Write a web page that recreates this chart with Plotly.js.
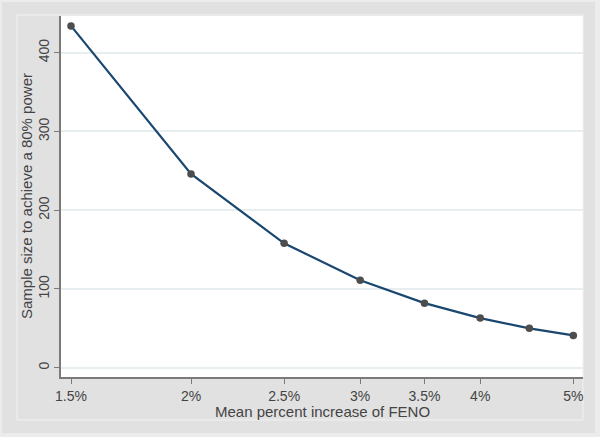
<!DOCTYPE html>
<html>
<head>
<meta charset="utf-8">
<script src="https://cdn.plot.ly/plotly-3.0.1.min.js"></script>
<style>
  html, body { margin: 0; padding: 0; background: #ececec; }
  #wrap { position: relative; width: 600px; height: 437px; background: #ececec; overflow: hidden; }
  #chart { position: absolute; left: 2px; top: 2px; width: 593px; height: 431px; }
</style>
</head>
<body>
<div id="wrap"><div id="chart"></div></div>
<script>
// Data
const meanPercentIncrease = [1.5, 2, 2.5, 3, 3.5, 4, 4.5, 5];
const sampleSize = [434, 246, 158, 111, 82, 63, 50, 41];
const xTickValues = [1.5, 2, 2.5, 3, 3.5, 4, 5];
const xTickLabels = ['1.5%', '2%', '2.5%', '3%', '3.5%', '4%', '5%'];
const yTickValues = [0, 100, 200, 300, 400];
const xTitle = 'Mean percent increase of FENO';
const yTitle = 'Sample size to achieve a 80% power';

// Layout geometry (pixels inside the chart div)
const M = { l: 59, r: 12, t: 14, b: 56 };
const W = 593, H = 431;
const pw = W - M.l - M.r, ph = H - M.t - M.b;
const xp = px => (px - M.l) / pw;
const yp = py => (M.t + ph - py) / ph;

const textColor = '#444444';
const font = 'Liberation Sans, Arial, Helvetica, sans-serif';

const trace = {
  x: meanPercentIncrease,
  y: sampleSize,
  type: 'scatter',
  mode: 'lines+markers',
  line: { color: '#1a476f', width: 2.2 },
  marker: { color: '#4d4d4d', size: 7.5 },
  hoverinfo: 'x+y'
};

const layout = {
  width: W,
  height: H,
  margin: M,
  paper_bgcolor: '#e1e1e1',
  plot_bgcolor: '#ffffff',
  showlegend: false,
  font: { family: font, color: textColor, size: 14 },
  xaxis: {
    type: 'log',
    range: [Math.log10(1.5) - 10 / 960.6, Math.log10(5) + 9.7 / 960.6],
    tickmode: 'array',
    tickvals: xTickValues,
    ticktext: xTickLabels,
    ticks: 'outside',
    ticklen: 5,
    tickwidth: 1,
    tickcolor: '#7a7a7a',
    showline: true,
    linecolor: '#7a7a7a',
    linewidth: 1.5,
    showgrid: false,
    zeroline: false,
    tickfont: { family: font, size: 14, color: textColor },
    automargin: false
  },
  yaxis: {
    range: [-11.8, 446.6],
    tickmode: 'array',
    tickvals: yTickValues,
    ticks: 'outside',
    ticklen: 5,
    tickwidth: 1,
    tickcolor: '#7a7a7a',
    tickangle: -90,
    showline: true,
    linecolor: '#7a7a7a',
    linewidth: 1.5,
    showgrid: true,
    gridcolor: '#e6eef0',
    gridwidth: 1.5,
    zeroline: false,
    tickfont: { family: font, size: 14, color: textColor },
    automargin: false
  },
  annotations: [
    {
      text: xTitle, xref: 'paper', yref: 'paper',
      x: 0.5, y: yp(409), xanchor: 'center', yanchor: 'middle',
      showarrow: false, font: { family: font, size: 15, color: textColor }
    },
    {
      text: yTitle, xref: 'paper', yref: 'paper', textangle: -90,
      x: xp(24.5), y: 0.5, xanchor: 'center', yanchor: 'middle',
      showarrow: false, font: { family: font, size: 15, color: textColor }
    }
  ],
  shapes: [
    {
      type: 'rect', xref: 'paper', yref: 'paper', layer: 'below',
      x0: xp(15), x1: xp(581), y0: yp(418), y1: yp(13),
      line: { color: '#f2f2f2', width: 1 }, fillcolor: 'rgba(0,0,0,0)'
    }
  ]
};

Plotly.newPlot('chart', [trace], layout, { displayModeBar: false });
</script>
</body>
</html>
